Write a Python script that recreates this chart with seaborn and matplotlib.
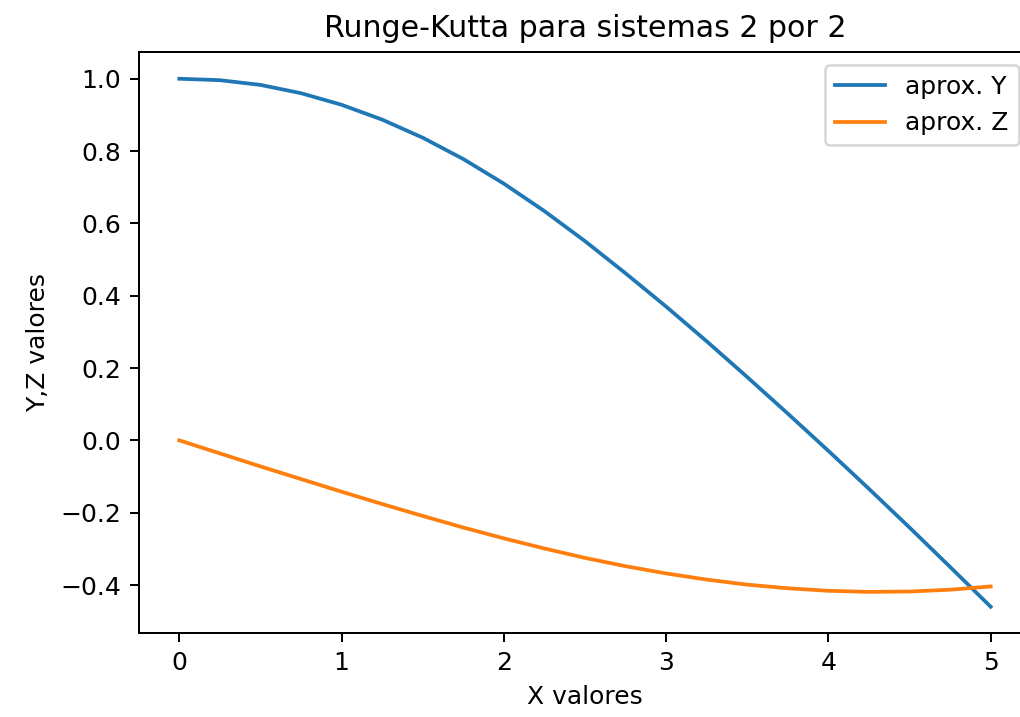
import numpy as np
import pandas as pd
import matplotlib
matplotlib.use("Agg")
import matplotlib.pyplot as plt
import seaborn as sns

# valores (paso 0.25)
x_vals = [0.0, 0.25, 0.5, 0.75, 1.0, 1.25, 1.5, 1.75, 2.0, 2.25, 2.5,
          2.75, 3.0, 3.25, 3.5, 3.75, 4.0, 4.25, 4.5, 4.75, 5.0]
y_aprox = [1.0, 0.996, 0.983, 0.960, 0.928, 0.887, 0.837, 0.778, 0.710, 0.634, 0.551,
           0.462, 0.370, 0.274, 0.175, 0.074, -0.029, -0.134, -0.241, -0.350, -0.460]
z_aprox = [0.0, -0.036, -0.072, -0.107, -0.142, -0.176, -0.209, -0.241, -0.271, -0.299, -0.325,
           -0.348, -0.368, -0.385, -0.399, -0.409, -0.416, -0.419, -0.418, -0.413, -0.404]

df = pd.DataFrame({"x": x_vals, "Y": y_aprox, "Z": z_aprox})

fig = plt.figure(figsize=(1020 / 180, 717 / 180), dpi=180)
# la imagen original esta recortada a la derecha
ax = fig.add_axes([0.136, 0.117, 0.875, 0.810])

sns.lineplot(data=df, x="x", y="Y", ax=ax, color="tab:blue", label="aprox. Y")
sns.lineplot(data=df, x="x", y="Z", ax=ax, color="tab:orange", label="aprox. Z")

ax.set_title("Runge-Kutta para sistemas 2 por 2")
ax.set_xlabel("X valores")
ax.set_ylabel("Y,Z valores")
ax.legend(loc="upper right")

fig.savefig("out.png", dpi=180)
